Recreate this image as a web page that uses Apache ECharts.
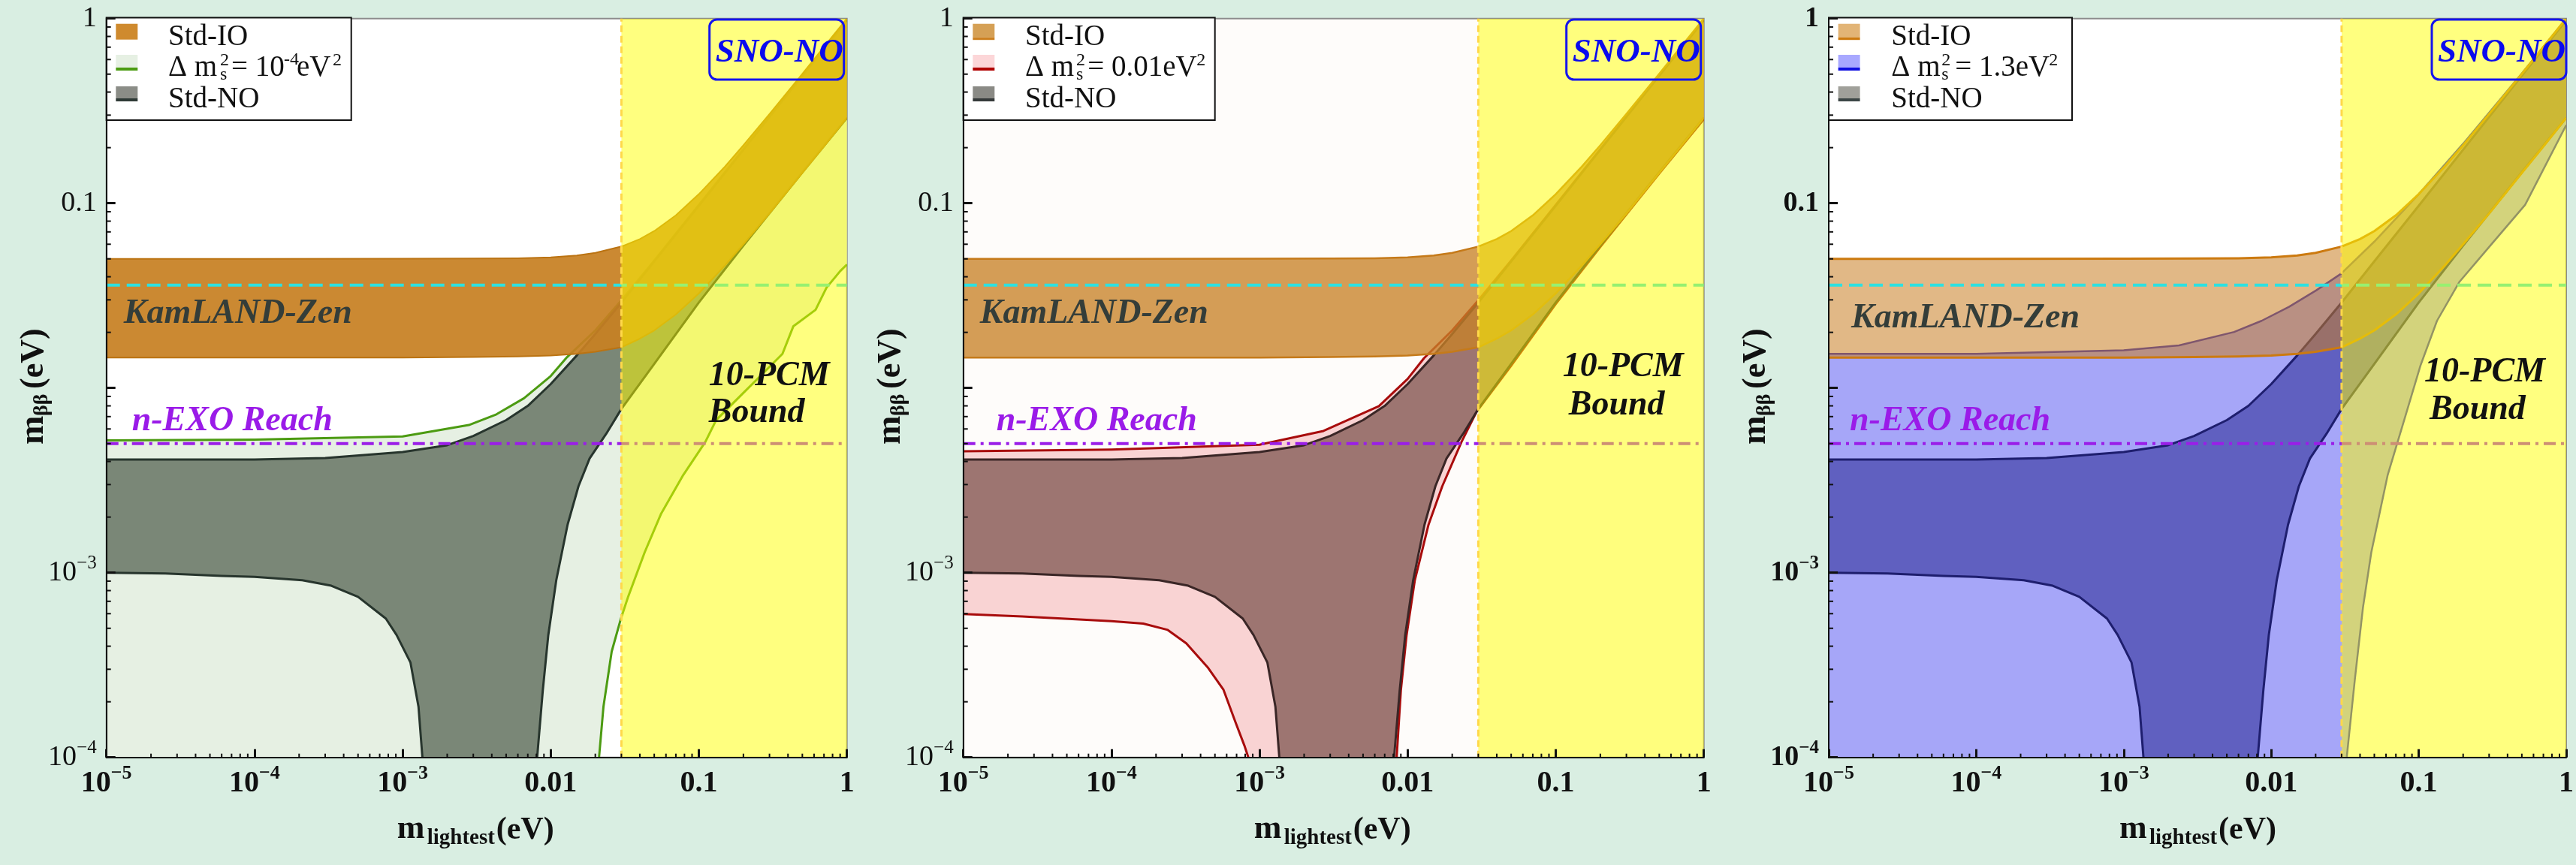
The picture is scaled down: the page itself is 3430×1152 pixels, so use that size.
<!DOCTYPE html>
<html>
<head>
<meta charset="utf-8">
<script src="https://cdn.jsdelivr.net/npm/echarts@6/dist/echarts.min.js"></script>
<style>
html,body{margin:0;padding:0;background:#d9eee2;}
#c{width:3430px;height:1152px;}
</style>
</head>
<body>
<div id="c"></div>
<script>
// ---- axis ranges and reference levels (eV) ----
const X_MIN = 1e-5, X_MAX = 1, Y_MIN = 1e-4, Y_MAX = 1;
const pcmBound = 0.03;      // 10-PCM cosmological bound on m_lightest
const kamlandZen = 0.036;   // KamLAND-Zen limit on m_bb
const nExoReach = 0.005;    // n-EXO projected reach

const xDecades = [1e-5, 1e-4, 1e-3, 1e-2, 1e-1];
const yDecades = [1e-4, 1e-3, 1e-2, 1e-1];
const minorSteps = [2, 3, 4, 5, 6, 7, 8, 9];

// ---- standard inverted ordering band ----
const ioUpper = [[1e-5,0.0500],[1e-4,0.0500],[1e-3,0.0501],[3e-3,0.0502],[6e-3,0.0504],[0.01,0.0510],[0.015,0.0521],[0.02,0.0539],[0.03,0.0583],[0.04,0.0640],[0.05,0.0707],[0.07,0.0860],[0.1,0.112],[0.15,0.158],[0.2,0.206],[0.3,0.304],[0.5,0.502],[0.7,0.702],[1,1.0]];
const ioLower = [[1e-5,0.0146],[1e-4,0.0146],[1e-3,0.0146],[3e-3,0.0147],[6e-3,0.0148],[0.01,0.0150],[0.015,0.0153],[0.02,0.0157],[0.03,0.0166],[0.04,0.0185],[0.05,0.0205],[0.07,0.0250],[0.1,0.0325],[0.15,0.046],[0.2,0.060],[0.3,0.088],[0.5,0.146],[0.7,0.203],[1,0.29]];

// ---- standard normal ordering band ----
const noUpper = [[1e-5,0.0041],[1e-4,0.0041],[3e-4,0.00418],[1e-3,0.0045],[2e-3,0.0049],[3e-3,0.0055],[5e-3,0.0067],[7e-3,0.0080],[0.01,0.0105],[0.015,0.0150],[0.02,0.0196],[0.03,0.0290],[0.05,0.0485],[0.1,0.097],[0.2,0.195],[0.5,0.49],[1,0.98]];
const noLowerLeft = [[1e-5,0.00100],[2.5e-5,0.00099],[6e-5,0.00096],[1e-4,0.00095],[2.1e-4,0.00091],[3.3e-4,0.00085],[5e-4,0.00074],[7.7e-4,0.000565],[9.1e-4,0.00046],[1.13e-3,0.000326],[1.28e-3,0.000188],[1.36e-3,0.0001]];
const noLowerRight = [[0.0081,0.0001],[0.00884,0.00023],[0.00963,0.00046],[0.0109,0.00091],[0.0130,0.00182],[0.0154,0.00294],[0.0183,0.00415],[0.0237,0.00565],[0.030,0.0077],[0.05,0.0135],[0.1,0.029],[0.2,0.059],[0.5,0.147],[1,0.29]];

// ---- sterile-neutrino bands ----
// dm2_s = 1e-4 eV^2
const sterile1Upper = [[1e-5,0.0052],[1e-4,0.00525],[1e-3,0.00546],[2.8e-3,0.0063],[4.3e-3,0.0072],[6.6e-3,0.0088],[0.01,0.0116],[0.0129,0.0147],[0.02,0.0205],[0.03,0.0298],[0.05,0.049],[0.1,0.098],[0.2,0.196],[0.5,0.49],[1,0.98]];
const sterile1Edge = [[0.0212,0.0001],[0.0227,0.000188],[0.0258,0.000374],[0.0298,0.000565],[0.0334,0.000745],[0.0431,0.00129],[0.0557,0.00209],[0.0785,0.00338],[0.1106,0.0051],[0.131,0.00671],[0.185,0.00884],[0.261,0.01164],[0.367,0.0153],[0.435,0.0216],[0.614,0.0265],[0.728,0.0349],[0.90,0.0429],[1,0.0466]];
// dm2_s = 0.01 eV^2
const sterile2Upper = [[1e-5,0.00454],[1e-4,0.00464],[1e-3,0.00493],[2.7e-3,0.00585],[6.4e-3,0.00797],[0.01,0.0112],[0.0129,0.0145],[0.02,0.0205],[0.03,0.0298],[0.05,0.049],[0.1,0.098],[0.2,0.196],[0.5,0.49],[1,0.98]];
const sterile2LowerLeft = [[1e-5,0.000597],[2.5e-5,0.00058],[1e-4,0.000546],[1.64e-4,0.00053],[2.4e-4,0.00049],[3.2e-4,0.000415],[4.5e-4,0.000305],[5.7e-4,0.000233],[6.9e-4,0.000154],[7.9e-4,0.000116],[8.4e-4,0.0001]];
const sterile2LowerRight = [[0.00843,0.0001],[0.0090,0.00023],[0.00984,0.00046],[0.01118,0.00091],[0.01384,0.00182],[0.01714,0.00294],[0.0231,0.0051],[0.0292,0.00744],[0.05,0.0132],[0.1,0.0285],[0.2,0.058],[0.5,0.145],[1,0.285]];
// dm2_s = 1.3 eV^2
const sterile3Upper = [[1e-5,0.0153],[1e-4,0.0153],[1e-3,0.0160],[2.37e-3,0.0170],[5.6e-3,0.0201],[8.6e-3,0.0231],[0.0132,0.0275],[0.0202,0.0338],[0.0297,0.0415],[0.05,0.062],[0.1,0.112],[0.2,0.21],[0.5,0.505],[1,1.0]];
const sterile3Edge = [[0.0325,0.0001],[0.0369,0.000265],[0.0419,0.00065],[0.0477,0.00129],[0.0616,0.00338],[0.0797,0.00671],[0.103,0.0133],[0.133,0.0231],[0.188,0.0374],[0.314,0.0605],[0.526,0.098],[1,0.265]];

const sterileNames = ['Δ m²_s = 10⁻⁴ eV²', 'Δ m²_s = 0.01 eV²', 'Δ m²_s = 1.3 eV²'];

// ---- layout ----
const PL = [141.7, 1282.7, 2435];
const PT = 24.7, PW = 986, PH = 984;
const FAMILY = '"Liberation Serif", "Times New Roman", serif';

function rev(a) { return a.slice().reverse(); }

const panels = [
  {
    bg: '#ffffff', boldY: false,
    sterilePoly: sterile1Upper.concat(rev(sterile1Edge), [[X_MIN, Y_MIN]]),
    sterileLines: [sterile1Upper, sterile1Edge],
    sterileFillColor: '#e6f0e3', sterileLine: '#4c9b12', sterileLW: 3,
    noFill: '#7a8777', noLine: '#27352d',
    ioFill: 'rgba(199,128,34,0.93)', ioLine: '#bb7312', ioLW: 2,
    legendW: 326,
    swatch: [{fill: '#cf8a2e', line: null}, {fill: '#e6f0e3', line: '#4c9b12'}, {fill: '#8b8d87', line: '#2e3a36'}],
    texts: {kam: [23, 418], exo: [34, 561], pcm: [802, 501], bound: [802, 550]}
  },
  {
    bg: '#fefcfa', boldY: false,
    sterilePoly: sterile2Upper.concat(rev(sterile2LowerRight), rev(sterile2LowerLeft)),
    sterileLines: [sterile2Upper, sterile2LowerLeft, sterile2LowerRight],
    sterileFillColor: '#f9d3d3', sterileLine: '#a80c0c', sterileLW: 3,
    noFill: '#9d7571', noLine: '#3a2626',
    ioFill: 'rgba(200,130,40,0.78)', ioLine: '#c57a1a', ioLW: 2.5,
    legendW: 335,
    swatch: [{fill: '#d5a055', line: '#cc8020'}, {fill: '#fcd6d8', line: '#b00000'}, {fill: '#8a8a85', line: '#353a3a'}],
    texts: {kam: [22, 418], exo: [44, 561], pcm: [798, 489], bound: [806, 540]}
  },
  {
    bg: '#ffffff', boldY: true,
    sterilePoly: sterile3Upper.concat(rev(sterile3Edge), [[X_MIN, Y_MIN]]),
    sterileLines: [sterile3Upper, sterile3Edge],
    sterileFillColor: '#a6a6f8', sterileLine: '#2626c8', sterileLW: 2.5,
    noFill: '#6060c0', noLine: '#1e1e6e',
    ioFill: 'rgba(200,125,35,0.55)', ioLine: '#cc7a10', ioLW: 3,
    legendW: 324,
    swatch: [{fill: '#e2b476', line: '#cc7a10'}, {fill: '#a8a8ff', line: '#1010e0'}, {fill: '#a0a09a', line: '#3c4646'}],
    texts: {kam: [30, 424], exo: [28, 561], pcm: [793, 496], bound: [800, 546]}
  }
];

// ---- series helpers ----
function coords(api, arr) { return arr.map(p => api.coord(p)); }

function bandSeries(i, name, poly, lines, fill, stroke, lw, z) {
  return {
    type: 'custom', name, xAxisIndex: i, yAxisIndex: i, z, clip: true, silent: true,
    data: poly,
    renderItem(params, api) {
      if (params.dataIndex !== 0) return null;
      const children = [{type: 'polygon', shape: {points: coords(api, poly)}, style: {fill: fill}}];
      lines.forEach(l => children.push({
        type: 'polyline', shape: {points: coords(api, l)},
        style: {fill: null, stroke: stroke, lineWidth: lw, lineJoin: 'round'}
      }));
      return {type: 'group', children};
    }
  };
}

function hLine(i, name, val, color, width, dash, z) {
  return {
    type: 'line', name, xAxisIndex: i, yAxisIndex: i, z, silent: true, symbol: 'none',
    data: [[X_MIN, val], [X_MAX, val]],
    lineStyle: {color, width, type: dash}
  };
}

function minorTickSeries(i) {
  return {
    type: 'custom', xAxisIndex: i, yAxisIndex: i, z: 12, clip: false, silent: true,
    data: [[X_MIN, Y_MIN]],
    renderItem(params, api) {
      const ch = [];
      xDecades.forEach(d => minorSteps.forEach(k => {
        const p = api.coord([k * d, Y_MIN]);
        ch.push({type: 'line', shape: {x1: p[0], y1: p[1], x2: p[0], y2: p[1] - 5}, style: {stroke: '#111', lineWidth: 2}});
      }));
      yDecades.forEach(d => minorSteps.forEach(k => {
        const p = api.coord([X_MIN, k * d]);
        ch.push({type: 'line', shape: {x1: p[0], y1: p[1], x2: p[0] + 6, y2: p[1]}, style: {stroke: '#111', lineWidth: 2}});
      }));
      return {type: 'group', children: ch};
    }
  };
}

// ---- axis label formatters ----
function xLabel(v) {
  const e = Math.round(Math.log10(v));
  if (e === 0) return '{a|1}';
  if (e === -1) return '{a|0.1}';
  if (e === -2) return '{a|0.01}';
  return '{a|10}{s|−' + (-e) + '}';
}
function yLabel(v) {
  const e = Math.round(Math.log10(v));
  if (e === 0) return '{a|1}';
  if (e === -1) return '{a|0.1}';
  if (e === -2) return '';
  return '{a|10}{s|−' + (-e) + '}';
}

const grids = [], xAxes = [], yAxes = [], series = [], graphics = [];

// text element: f = [size, weight, style]
function txt(x, y, text, f, fill, z) {
  return {type: 'text', x, y, z: z || 100, silent: true,
    style: {text, fontSize: f[0], fontWeight: f[1] || 'normal', fontStyle: f[2] || 'normal', fontFamily: FAMILY,
      fill, textAlign: 'left', textVerticalAlign: 'middle', align: 'left', verticalAlign: 'middle'}};
}
function rect(x, y, w, h, fill, z) {
  return {type: 'rect', z: z || 100, silent: true, shape: {x, y, width: w, height: h}, style: {fill}};
}

panels.forEach((P, i) => {
  const L = PL[i];
  grids.push({left: L, top: PT, width: PW, height: PH, show: true, backgroundColor: P.bg, borderColor: '#8c8c8c', borderWidth: 2});
  xAxes.push({
    type: 'log', logBase: 10, gridIndex: i, min: X_MIN, max: X_MAX, splitNumber: 5, z: 10,
    axisLine: {show: true, onZero: false, lineStyle: {color: '#111', width: 2}},
    axisTick: {show: true, inside: true, length: 11, lineStyle: {color: '#111', width: 3}},
    splitLine: {show: false},
    axisLabel: {
      show: true, margin: 9, interval: 0, showMinLabel: true, showMaxLabel: true, hideOverlap: false,
      formatter: xLabel,
      rich: {
        a: {fontFamily: FAMILY, fontWeight: 'bold', fontSize: 40, lineHeight: 52, color: '#111'},
        s: {fontFamily: FAMILY, fontWeight: 'bold', fontSize: 26, lineHeight: 26, verticalAlign: 'top', color: '#111'}
      }
    }
  });
  const yw = P.boldY ? 'bold' : 'normal';
  yAxes.push({
    type: 'log', logBase: 10, gridIndex: i, min: Y_MIN, max: Y_MAX, splitNumber: 4, z: 10,
    axisLine: {show: true, onZero: false, lineStyle: {color: '#111', width: 2}},
    axisTick: {show: true, inside: true, length: 12, lineStyle: {color: '#111', width: 3}},
    splitLine: {show: false},
    axisLabel: {
      show: true, margin: 13, interval: 0, showMinLabel: true, showMaxLabel: true, hideOverlap: false,
      formatter: yLabel,
      rich: {
        a: {fontFamily: FAMILY, fontWeight: yw, fontSize: 38, lineHeight: 50, color: '#111'},
        s: {fontFamily: FAMILY, fontWeight: yw, fontSize: 25, lineHeight: 25, verticalAlign: 'top', color: '#111'}
      }
    }
  });

  series.push(bandSeries(i, sterileNames[i], P.sterilePoly, P.sterileLines, P.sterileFillColor, P.sterileLine, P.sterileLW, 2));
  series.push(bandSeries(i, 'Std-NO', noUpper.concat(rev(noLowerRight), rev(noLowerLeft)),
    [noUpper, noLowerLeft, noLowerRight], P.noFill, P.noLine, 3, 3));
  series.push(bandSeries(i, 'Std-IO', ioUpper.concat(rev(ioLower)), [ioUpper, ioLower], P.ioFill, P.ioLine, P.ioLW, 4));
  series.push(hLine(i, 'KamLAND-Zen', kamlandZen, '#2ee0e0', 4, [18, 9], 5));
  series.push(hLine(i, 'n-EXO Reach', nExoReach, '#9a1ee8', 4, [16, 7, 4, 7], 5));
  // 10-PCM excluded region, translucent yellow over everything beneath
  const pcmRegion = [[pcmBound, Y_MIN], [X_MAX, Y_MIN], [X_MAX, Y_MAX], [pcmBound, Y_MAX]];
  series.push(bandSeries(i, '10-PCM Bound', pcmRegion, [], 'rgba(255,255,0,0.5)', null, 0, 6));
  series.push({
    type: 'line', xAxisIndex: i, yAxisIndex: i, z: 7, silent: true, symbol: 'none',
    data: [[pcmBound, Y_MIN], [pcmBound, Y_MAX]],
    lineStyle: {color: '#ffd84a', width: 3, type: [9, 5]}
  });
  series.push(minorTickSeries(i));

  // ---- legend box ----
  graphics.push({type: 'rect', z: 8, silent: true, shape: {x: L, y: 23.5, width: P.legendW, height: 136.5},
    style: {fill: '#ffffff', stroke: '#111', lineWidth: 2}});
  const sx = L + 12.6, sw = 29;
  const sw0 = P.swatch[0];
  if (sw0.line) {
    graphics.push(rect(sx, 31.7, sw, 18, sw0.fill, 9));
    graphics.push(rect(sx, 49.7, sw, 3.5, sw0.line, 9));
  } else {
    graphics.push(rect(sx, 31.7, sw, 21, sw0.fill, 9));
  }
  graphics.push(rect(sx, 73, sw, 17, P.swatch[1].fill, 9));
  graphics.push(rect(sx, 90, sw, 4, P.swatch[1].line, 9));
  graphics.push(rect(sx, 115, sw, 16, P.swatch[2].fill, 9));
  graphics.push(rect(sx, 131, sw, 4, P.swatch[2].line, 9));

  const LF = [39], SF = [24];
  const tx = L + 82.3 + (i === 2 ? 1 : 0);
  graphics.push(txt(tx, 49.5, 'Std-IO', LF, '#111'));
  graphics.push(txt(tx, 132.3, 'Std-NO', LF, '#111'));
  graphics.push(txt(tx, 91, 'Δ m', LF, '#111'));
  const ssx = L + (i === 0 ? 151.3 : 150.3);
  graphics.push(txt(ssx, 81, '2', SF, '#111'));
  graphics.push(txt(ssx, 100, 's', SF, '#111'));
  if (i === 0) {
    graphics.push(txt(L + 166.3, 91, '= 10', LF, '#111'));
    graphics.push(txt(L + 236.3, 80, '-4', SF, '#111'));
    graphics.push(txt(L + 253.3, 91, 'eV', LF, '#111'));
    graphics.push(txt(L + 301.3, 81, '2', SF, '#111'));
  } else if (i === 1) {
    graphics.push(txt(L + 165.6, 91, '= 0.01eV', LF, '#111'));
    graphics.push(txt(L + 310.6, 81, '2', SF, '#111'));
  } else {
    graphics.push(txt(L + 168.3, 91, '= 1.3eV', LF, '#111'));
    graphics.push(txt(L + 293.3, 81, '2', SF, '#111'));
  }

  // ---- annotations ----
  const AF = [46, 'bold', 'italic'];
  const T = P.texts;
  graphics.push(txt(L + T.kam[0], T.kam[1], 'KamLAND-Zen', AF, '#343d39'));
  graphics.push(txt(L + T.exo[0], T.exo[1], 'n-EXO Reach', AF, '#9a1be8'));
  graphics.push(txt(L + T.pcm[0], T.pcm[1], '10-PCM', AF, '#111'));
  graphics.push(txt(L + T.bound[0], T.bound[1], 'Bound', AF, '#111'));
  graphics.push({type: 'rect', z: 100, silent: true, shape: {x: L + 803, y: 26, width: 179, height: 80, r: 10},
    style: {fill: 'rgba(0,0,0,0)', stroke: '#1414ee', lineWidth: 3}});
  graphics.push(txt(L + 811, 70, 'SNO-NO', [45, 'bold', 'italic'], '#0a0aee'));

  // ---- axis titles ----
  graphics.push(txt(L + 387, 1105, 'm', [44, 'bold'], '#111'));
  graphics.push(txt(L + 427, 1117, 'lightest', [29, 'bold'], '#111'));
  graphics.push(txt(L + 519, 1106, '(eV)', [42, 'bold'], '#111'));
  graphics.push({
    type: 'group', x: L - 81, y: 592, rotation: Math.PI / 2, z: 100, silent: true,
    children: [
      txt(0, -15.6, 'm', [46, 'bold'], '#111'),
      txt(38, -4.5, 'ββ', [28, 'bold'], '#111'),
      txt(74, -15, '(eV)', [44, 'bold'], '#111')
    ]
  });
});

const chart = echarts.init(document.getElementById('c'), null, {renderer: 'canvas', width: 3430, height: 1152});
chart.setOption({
  backgroundColor: '#d9eee2',
  animation: false,
  grid: grids,
  xAxis: xAxes,
  yAxis: yAxes,
  series: series,
  graphic: {elements: graphics}
});
</script>
</body>
</html>
